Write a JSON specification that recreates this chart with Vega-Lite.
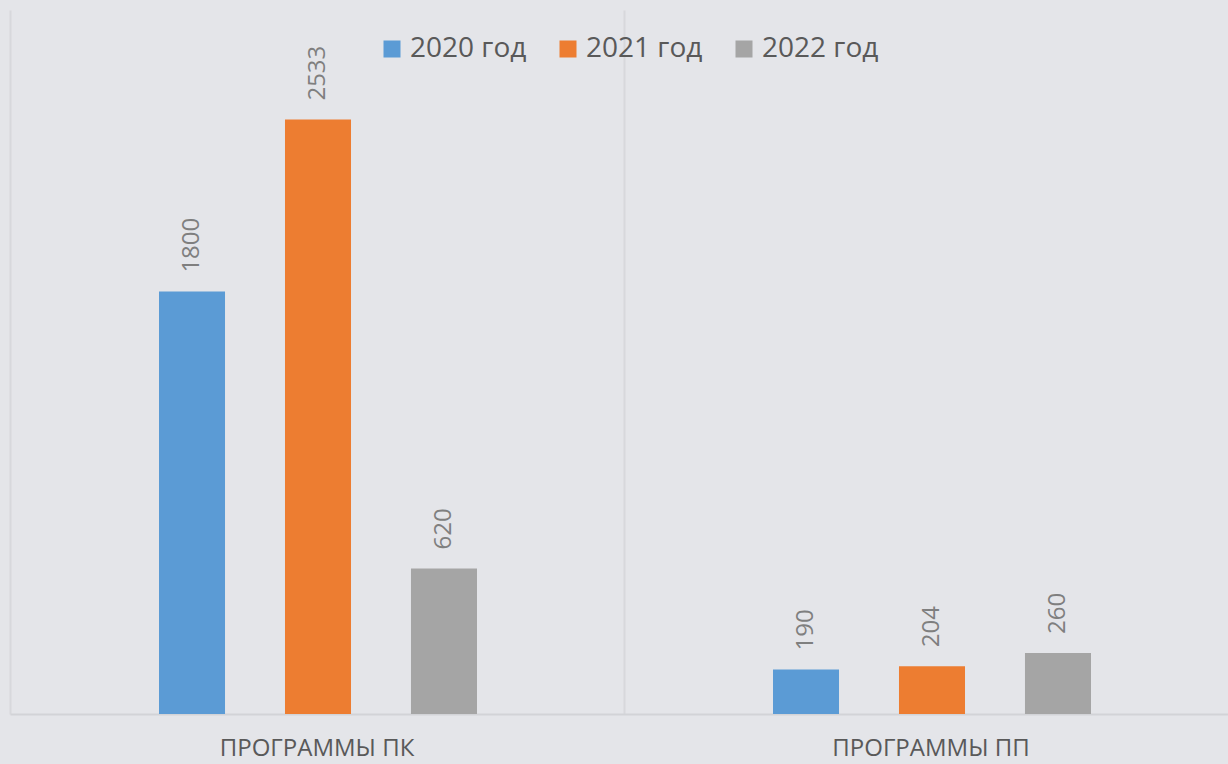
{
  "$schema": "https://vega.github.io/schema/vega-lite/v6.json",
  "width": 1228,
  "height": 704,
  "padding": {"left": 10, "top": 10, "right": 0, "bottom": 50},
  "autosize": {"type": "none"},
  "background": "#E4E5E9",
  "config": {"view": {"stroke": null}, "font": "Open Sans"},
  "data": {
    "values": [
      {"cat": "ПРОГРАММЫ ПК", "year": "2020 год", "v": 1800},
      {"cat": "ПРОГРАММЫ ПК", "year": "2021 год", "v": 2533},
      {"cat": "ПРОГРАММЫ ПК", "year": "2022 год", "v": 620},
      {"cat": "ПРОГРАММЫ ПП", "year": "2020 год", "v": 190},
      {"cat": "ПРОГРАММЫ ПП", "year": "2021 год", "v": 204},
      {"cat": "ПРОГРАММЫ ПП", "year": "2022 год", "v": 260}
    ]
  },
  "encoding": {
    "x": {
      "field": "cat",
      "type": "nominal",
      "sort": null,
      "scale": {"paddingInner": 0, "paddingOuter": 0},
      "axis": {
        "title": null,
        "labelAngle": 0,
        "labelFont": "Open Sans",
        "labelFontSize": 24,
        "labelColor": "#595959",
        "labelBaseline": "alphabetic",
        "labelPadding": 41,
        "labelLimit": 0,
        "ticks": false,
        "domain": true,
        "domainColor": "#D2D3D7",
        "domainWidth": 2,
        "grid": true,
        "gridColor": "#D7D8DC",
        "gridWidth": 2,
        "bandPosition": 0
      }
    },
    "xOffset": {
      "field": "year",
      "type": "nominal",
      "scale": {"range": [149, 467], "paddingInner": 0.476, "paddingOuter": 0}
    },
    "y": {
      "field": "v",
      "type": "quantitative",
      "scale": {"domain": [0, 3000]},
      "axis": null
    }
  },
  "layer": [
    {
      "mark": {"type": "bar"},
      "encoding": {
        "color": {
          "field": "year",
          "type": "nominal",
          "scale": {
            "domain": ["2020 год", "2021 год", "2022 год"],
            "range": ["#5B9BD5", "#ED7D31", "#A5A5A5"]
          },
          "legend": {
            "title": null,
            "orient": "none",
            "legendX": 368,
            "legendY": 25,
            "direction": "horizontal",
            "symbolType": "square",
            "symbolSize": 289,
            "symbolStrokeWidth": 0,
            "symbolOpacity": 1,
            "labelFont": "Open Sans",
            "labelFontSize": 28,
            "labelColor": "#595959",
            "labelOffset": 4,
            "columnPadding": 27,
            "padding": 0
          }
        }
      }
    },
    {
      "mark": {
        "type": "text",
        "angle": -90,
        "align": "left",
        "baseline": "middle",
        "dx": 19,
        "fontSize": 24,
        "font": "Open Sans",
        "color": "#7F7F7F"
      },
      "encoding": {
        "text": {"field": "v", "type": "quantitative"}
      }
    }
  ]
}
